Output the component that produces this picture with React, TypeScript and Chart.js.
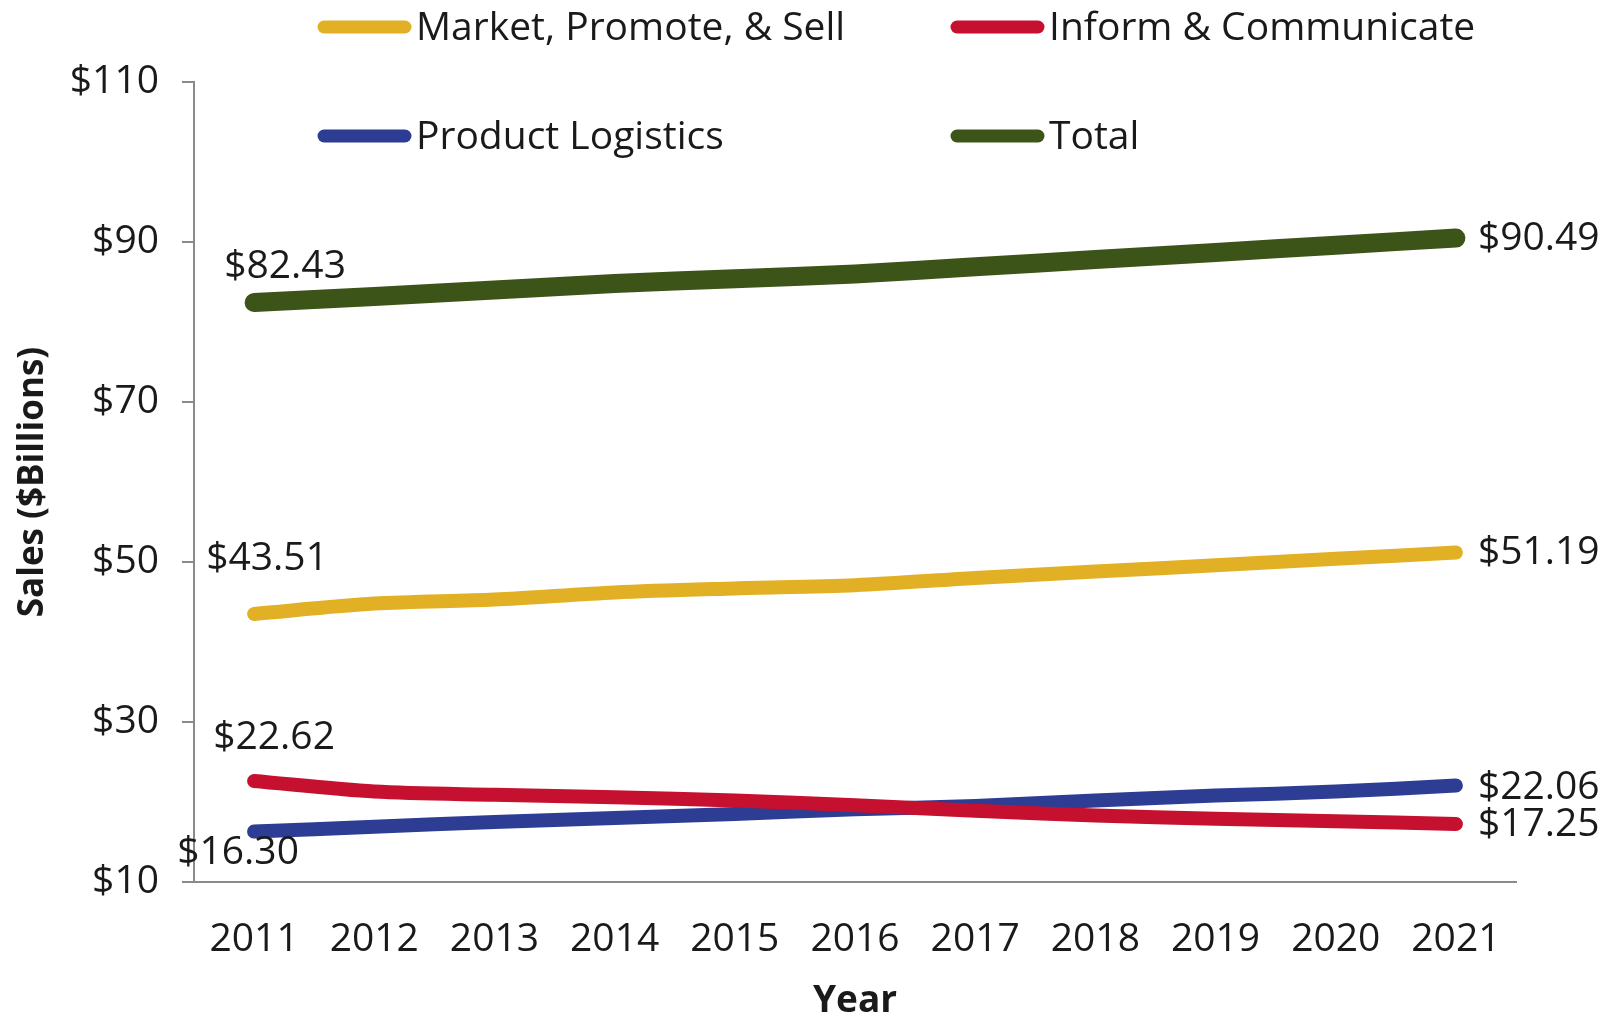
import React, { useEffect, useRef } from "react";
import { Chart, registerables } from "chart.js";

Chart.register(...registerables);

// ---------- data ----------
const years = ["2011", "2012", "2013", "2014", "2015", "2016", "2017", "2018", "2019", "2020", "2021"];
const marketPromoteSell = [43.51, 44.8, 45.3, 46.2, 46.7, 47.1, 48.0, 48.8, 49.6, 50.4, 51.19];
const informCommunicate = [22.62, 21.3, 20.9, 20.6, 20.2, 19.6, 18.9, 18.3, 17.9, 17.6, 17.25];
const productLogistics = [16.3, 16.9, 17.5, 18.0, 18.5, 19.1, 19.5, 20.2, 20.8, 21.3, 22.06];
const totalSales = [82.43, 83.2, 84.0, 84.8, 85.4, 86.0, 86.9, 87.8, 88.7, 89.6, 90.49];
const seriesNames = ["Market, Promote, & Sell", "Inform & Communicate", "Product Logistics", "Total"];
const yTickValues = [10, 30, 50, 70, 90, 110];

// ---------- styles ----------
const COLORS = ["#E1B024", "#C5102F", "#2D3D94", "#3D5419"];
const WIDTHS = [14, 14, 14, 19];
const FONT = "'Open Sans', 'Noto Sans', sans-serif";
const TEXT = "#1a1a1a";
const FS = 39;

// label offsets relative to the first / last point of each series
const firstLabelStyle = [
  { dx: 13, dy: -55, align: "center" },
  { dx: 20, dy: -43, align: "center" },
  { dx: -16, dy: 21, align: "center" },
  { dx: 31, dy: -36, align: "center" },
];
const lastLabelStyle = [
  { dx: 22, dy: 0, align: "left" },
  { dx: 22, dy: 1, align: "left" },
  { dx: 22, dy: 2, align: "left" },
  { dx: 22, dy: 1, align: "left" },
];

// legend layout (canvas pixels)
const legendCols = [318, 951];
const legendRows = [29, 138];
const legendLineLen = 93;
const legendTextGap = 6;

const legendPlugin = {
  id: "customLegend",
  afterDraw(chart: any) {
    const ctx = chart.ctx;
    ctx.save();
    chart.data.datasets.forEach((ds: any, i: number) => {
      const x = legendCols[i % 2];
      const y = legendRows[Math.floor(i / 2)];
      ctx.strokeStyle = ds.borderColor;
      ctx.lineWidth = 13;
      ctx.lineCap = "round";
      ctx.beginPath();
      ctx.moveTo(x + 6, y - 2);
      ctx.lineTo(x + legendLineLen - 6, y - 2);
      ctx.stroke();
      ctx.fillStyle = TEXT;
      ctx.font = `${FS}px ${FONT}`;
      ctx.textAlign = "left";
      ctx.textBaseline = "middle";
      ctx.fillText(ds.label, x + legendLineLen + legendTextGap - 1, y);
    });
    ctx.restore();
  },
};

const endLabelPlugin = {
  id: "endLabels",
  afterDatasetsDraw(chart: any) {
    const ctx = chart.ctx;
    ctx.save();
    ctx.font = `${FS}px ${FONT}`;
    ctx.fillStyle = TEXT;
    ctx.textBaseline = "middle";
    chart.data.datasets.forEach((ds: any, i: number) => {
      const meta = chart.getDatasetMeta(i);
      const n = ds.data.length;
      const pts = [
        { el: meta.data[0], v: ds.data[0], s: firstLabelStyle[i] },
        { el: meta.data[n - 1], v: ds.data[n - 1], s: lastLabelStyle[i] },
      ];
      pts.forEach(({ el, v, s }) => {
        ctx.textAlign = s.align;
        ctx.fillText("$" + v.toFixed(2), el.x + s.dx, el.y + s.dy);
      });
    });
    ctx.restore();
  },
};

export default function App() {
  const ref = useRef<HTMLCanvasElement | null>(null);
  useEffect(() => {
    if (!ref.current) return;
    const seriesData = [marketPromoteSell, informCommunicate, productLogistics, totalSales];
    const chart = new Chart(ref.current, {
      type: "line",
      data: {
        labels: years,
        datasets: seriesData.map((d, i) => ({
          label: seriesNames[i],
          data: d,
          borderColor: COLORS[i],
          backgroundColor: COLORS[i],
          borderWidth: WIDTHS[i],
          borderCapStyle: "round",
          borderJoinStyle: "round",
          pointRadius: 0,
          pointHoverRadius: 0,
          tension: 0.3,
          fill: false,
        })),
      },
      options: {
        animation: false,
        responsive: false,
        devicePixelRatio: 1,
        layout: { padding: { top: 82, right: 105, bottom: 0, left: 0 } },
        plugins: {
          legend: { display: false },
          tooltip: { enabled: false },
          title: { display: false },
        },
        scales: {
          x: {
            type: "category",
            offset: true,
            grid: { display: true, drawOnChartArea: false, drawTicks: false },
            border: { display: true, color: "#8a8a8a", width: 2 },
            ticks: {
              color: TEXT,
              font: { family: FONT, size: FS },
              padding: 34,
              maxRotation: 0,
              autoSkip: false,
            },
            title: {
              display: true,
              text: "Year",
              color: TEXT,
              font: { family: FONT, size: 37, weight: "bold", lineHeight: 0.65 },
              padding: 0,
            },
            afterFit(scale: any) {
              scale.height = 131;
            },
          },
          y: {
            min: 10,
            max: 110,
            afterBuildTicks(scale: any) {
              scale.ticks = yTickValues.map((v) => ({ value: v }));
            },
            grid: { display: true, drawOnChartArea: false, drawTicks: true, tickLength: 12, color: "#8a8a8a", lineWidth: 2 },
            border: { display: true, color: "#8a8a8a", width: 2 },
            ticks: {
              color: TEXT,
              font: { family: FONT, size: FS },
              padding: 23,
              callback: (v: any) => "$" + v,
            },
            title: {
              display: true,
              text: "Sales ($Billions)",
              color: TEXT,
              font: { family: FONT, size: 35, weight: "bold", lineHeight: 1.2 },
              padding: { top: 12, bottom: 0 },
            },
            afterFit(scale: any) {
              scale.width = 194;
            },
          },
        },
      },
      plugins: [legendPlugin, endLabelPlugin],
    } as any);
    return () => chart.destroy();
  }, []);
  return (
    <div style={{ position: "fixed", left: 0, top: 0, width: 1621, height: 1013, background: "#fff" }}>
      <canvas ref={ref} width={1621} height={1013} style={{ width: 1621, height: 1013, display: "block" }} />
    </div>
  );
}
